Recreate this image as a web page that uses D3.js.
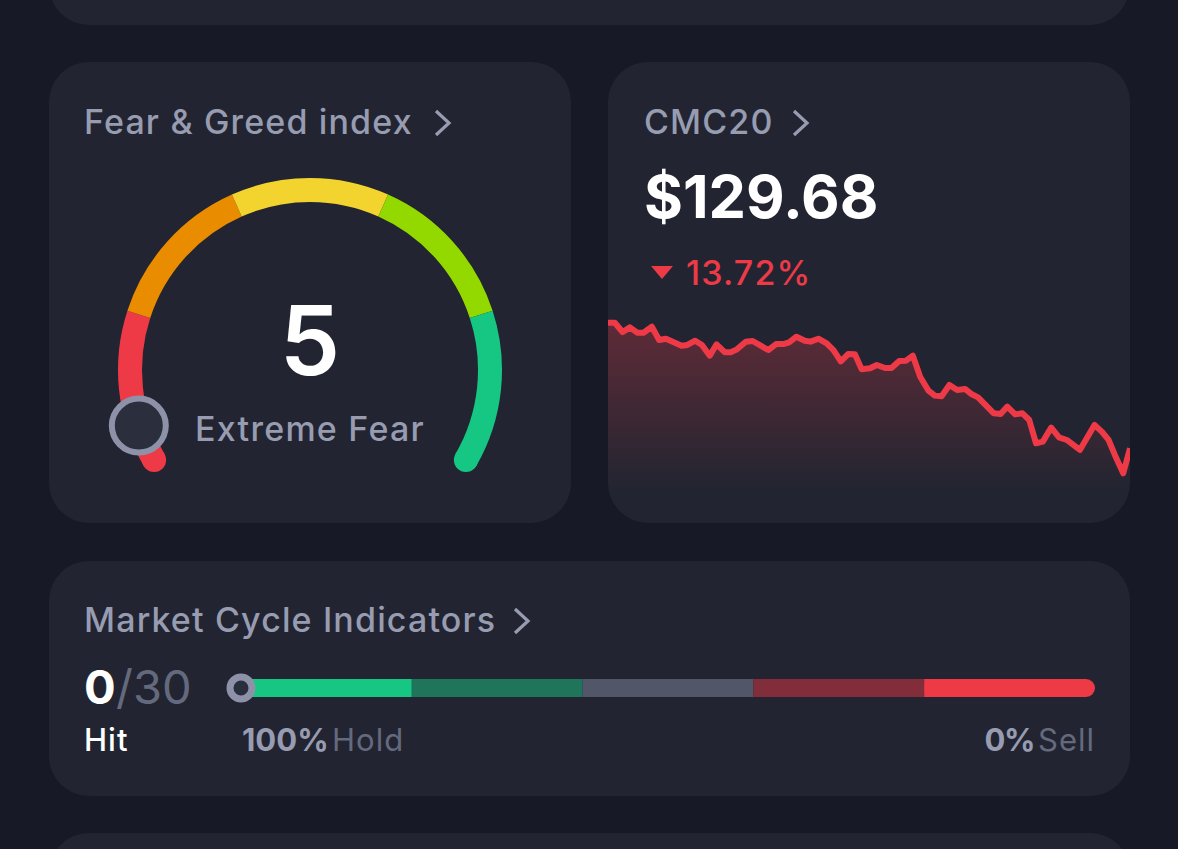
<!DOCTYPE html>
<html>
<head>
<meta charset="utf-8">
<title>Market overview</title>
<script src="https://cdn.jsdelivr.net/npm/d3@7"></script>
<style>
  html, body { margin: 0; padding: 0; background: #171a26; }
  svg { display: block; font-family: Inter, "Noto Sans", sans-serif; }
</style>
</head>
<body>
<svg id="chart" width="1178" height="849"></svg>
<script>
// gauge values
var gaugeStops = [0, 20, 40, 60, 80, 100];
var gaugeColors = ["#ee3a46", "#ea8c00", "#f3d42f", "#93d900", "#16c784"];
var gaugeValue = 5;
var gaugeLabel = "Extreme Fear";

// CMC20 line
var cmcTime = [0, 1.3, 2.8, 4.2, 5.6, 6.8, 8.4, 9.8, 11.1, 14.1, 15.2, 16.7, 18, 19.5, 20.8, 22.4, 23.5, 24.7, 26.4, 27.7, 30.7, 32.2, 33.6, 34.7, 36.1, 37.7, 38.8, 40.3, 41.9, 43.2, 44.6, 46, 47.3, 48.6, 50.2, 51.5, 53.1, 54.3, 55.8, 57.1, 58.4, 59.8, 61.4, 62.6, 63.9, 65.4, 66.9, 68.4, 69.7, 70.9, 73.9, 75.2, 76.5, 78, 79.4, 80.7, 82, 83.3, 84.9, 86.4, 87.9, 90.4, 93.2, 94.6, 95.9, 97.1, 98.7, 100];
var cmcPrice = [150.36, 150.36, 148.82, 149.59, 148.71, 148.71, 149.7, 147.5, 147.72, 146.57, 146.68, 147.39, 146.68, 144.92, 146.79, 145.47, 145.47, 145.96, 147.23, 147.34, 145.85, 146.84, 146.84, 147.12, 148.05, 147.39, 147.23, 147.72, 146.95, 145.85, 143.98, 145.19, 145.14, 142.66, 142.83, 143.38, 142.88, 142.88, 144.04, 144.09, 144.92, 141.45, 139.14, 138.32, 138.21, 140.08, 139.25, 139.42, 138.54, 138.04, 135.4, 135.29, 136.5, 135.24, 135.4, 134.3, 130.45, 130.73, 133.04, 131.44, 131, 129.35, 133.48, 132.38, 131, 128.53, 125.5, 129.63];

// cycle bar
var cycleStops = [0, 20, 40, 60, 80, 100];
var cycleColors = ["#16c784", "#1f7559", "#515769", "#812e3a", "#ee3a46"];

var svg = d3.select("#chart");
var defs = svg.append("defs");

var cardFill = "#222531";
var titleColor = "#979cb1";
var red = "#ee3a46";

// cards
function card(x, y, w, h) {
  svg.append("rect").attr("x", x).attr("y", y).attr("width", w).attr("height", h)
    .attr("rx", 40).attr("fill", cardFill);
}
card(49, -200, 1081, 225);
card(49, 62, 522, 461);
card(608, 62, 522, 461);
card(49, 561, 1081, 235);
card(49, 833, 1081, 200);

function title(txt, x, y, chevronX) {
  svg.append("text").attr("x", x).attr("y", y).attr("fill", titleColor)
    .attr("font-size", 34).attr("font-weight", 500).style("letter-spacing", "1.15px").text(txt);
  svg.append("path")
    .attr("d", d3.line()([[chevronX, y - 23], [chevronX + 13, y - 11], [chevronX, y + 1]]))
    .attr("fill", "none").attr("stroke", titleColor).attr("stroke-width", 3.2);
}
title("Fear & Greed index", 84, 134, 436);
title("CMC20", 644, 134, 794);
title("Market Cycle Indicators", 84, 632, 515);

// gauge
var gauge = svg.append("g").attr("transform", "translate(310,370)");
var angle = d3.scaleLinear().domain([0, 100]).range([-120, 120]);
var rad = d => angle(d) * Math.PI / 180;
var arc = d3.arc().innerRadius(168).outerRadius(192);

// round caps sit underneath the two end segments
[0, 100].forEach(function(v, i) {
  gauge.append("circle")
    .attr("cx", 180 * Math.sin(rad(v)))
    .attr("cy", -180 * Math.cos(rad(v)))
    .attr("r", 12).attr("fill", gaugeColors[i * 4]);
});
gaugeColors.forEach(function(c, i) {
  gauge.append("path")
    .attr("d", arc({ startAngle: rad(gaugeStops[i]), endAngle: rad(gaugeStops[i + 1]) }))
    .attr("fill", c);
});
gauge.append("circle")
  .attr("cx", 180 * Math.sin(rad(gaugeValue)))
  .attr("cy", -180 * Math.cos(rad(gaugeValue)))
  .attr("r", 27).attr("fill", "#2b2e3c").attr("stroke", "#8d92a8").attr("stroke-width", 6);
svg.append("text").attr("x", 310).attr("y", 375).attr("text-anchor", "middle")
  .attr("fill", "#fff").attr("font-size", 96).attr("font-weight", 600).text(gaugeValue);
svg.append("text").attr("x", 310).attr("y", 441).attr("text-anchor", "middle")
  .attr("fill", titleColor).attr("font-size", 34).attr("font-weight", 500)
  .style("letter-spacing", "1.25px").text(gaugeLabel);

// CMC20 block
svg.append("text").attr("x", 644).attr("y", 218).attr("fill", "#fff")
  .attr("font-size", 59.5).attr("font-weight", 700).text("$129.68");
svg.append("path").attr("d", d3.line()([[651, 266], [673, 266], [662, 279]])).attr("fill", red);
svg.append("text").attr("x", 686).attr("y", 285).attr("fill", red)
  .attr("font-size", 34).attr("font-weight", 500).style("letter-spacing", "1.15px").text("13.72%");

var clip = defs.append("clipPath").attr("id", "cmc-clip");
clip.append("rect").attr("x", 608).attr("y", 62).attr("width", 522).attr("height", 461).attr("rx", 40);

var grad = defs.append("linearGradient").attr("id", "cmc-fill")
  .attr("gradientUnits", "userSpaceOnUse")
  .attr("x1", 0).attr("x2", 0).attr("y1", 320).attr("y2", 490);
grad.append("stop").attr("offset", 0).attr("stop-color", red).attr("stop-opacity", 0.3);
grad.append("stop").attr("offset", 1).attr("stop-color", red).attr("stop-opacity", 0);

var x = d3.scaleLinear().domain([0, 100]).range([608, 1130]);
var y = d3.scaleLinear().domain([125.5, 150.36]).range([473.3, 322.7]);
var cmcPoints = cmcTime.map((t, i) => [t, cmcPrice[i]]);

var plot = svg.append("g").attr("clip-path", "url(#cmc-clip)");
plot.append("path")
  .attr("d", d3.area().x(d => x(d[0])).y0(523).y1(d => y(d[1]))(cmcPoints))
  .attr("fill", "url(#cmc-fill)");
plot.append("path")
  .attr("d", d3.line().x(d => x(d[0])).y(d => y(d[1]))(cmcPoints))
  .attr("fill", "none").attr("stroke", red).attr("stroke-width", 6).attr("stroke-linejoin", "round");

// market cycle block
svg.append("text").attr("x", 84).attr("y", 704).attr("fill", "#fff")
  .attr("font-size", 47).attr("font-weight", 700).text("0");
svg.append("text").attr("x", 116).attr("y", 704).attr("fill", "#646a7e")
  .attr("font-size", 47).attr("font-weight", 400).text("/30");
svg.append("text").attr("x", 84).attr("y", 751).attr("fill", "#fff")
  .attr("font-size", 31).attr("font-weight", 500).style("letter-spacing", "1px").text("Hit");

var barX = d3.scaleLinear().domain([0, 100]).range([241, 1095]);
svg.append("rect").attr("x", barX(80)).attr("y", 679).attr("height", 18)
  .attr("width", barX(100) - barX(80)).attr("rx", 9).attr("fill", cycleColors[4]);
cycleColors.slice(0, 4).forEach(function(c, i) {
  svg.append("rect").attr("x", barX(cycleStops[i])).attr("y", 679).attr("height", 18)
    .attr("width", barX(cycleStops[i + 1]) - barX(cycleStops[i])).attr("fill", c);
});
svg.append("rect").attr("x", barX(80)).attr("y", 679).attr("height", 18).attr("width", 20).attr("fill", cycleColors[4]);
svg.append("circle").attr("cx", barX(0)).attr("cy", 688).attr("r", 11)
  .attr("fill", "#2b2e3c").attr("stroke", "#8d92a8").attr("stroke-width", 7);

svg.append("text").attr("x", 242).attr("y", 751).attr("fill", titleColor)
  .attr("font-size", 31).attr("font-weight", 700).text("100%");
svg.append("text").attr("x", 332).attr("y", 751).attr("fill", "#646a7e")
  .attr("font-size", 31).style("letter-spacing", "1px").text("Hold");
svg.append("text").attr("x", 1034).attr("y", 751).attr("text-anchor", "end").attr("fill", titleColor)
  .attr("font-size", 31).attr("font-weight", 700).style("letter-spacing", "-1.5px").text("0%");
svg.append("text").attr("x", 1095).attr("y", 751).attr("text-anchor", "end").attr("fill", "#646a7e")
  .attr("font-size", 31).style("letter-spacing", "1px").text("Sell");
</script>
</body>
</html>
